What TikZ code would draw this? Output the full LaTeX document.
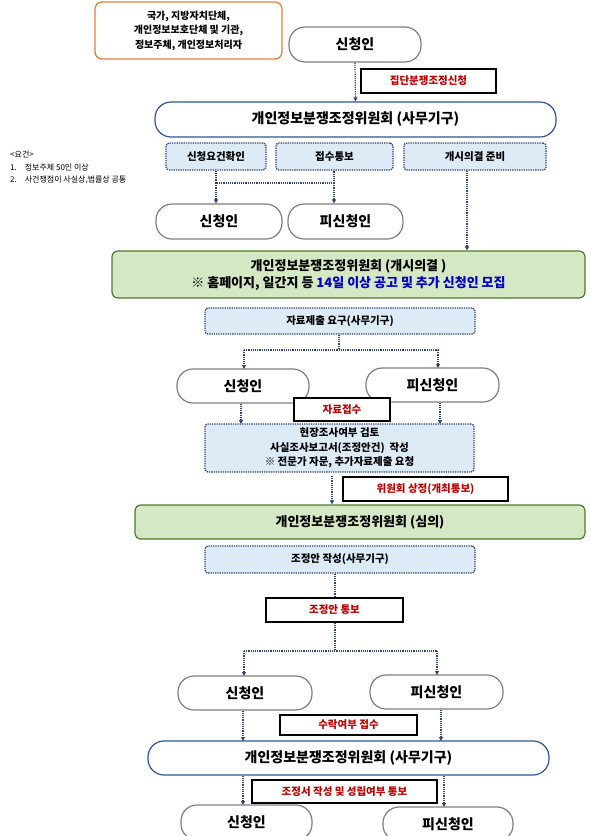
\documentclass[tikz,border=0pt]{standalone}
\usepackage{fontspec}
\setmainfont{Noto Sans CJK KR}
\usetikzlibrary{arrows.meta}
\definecolor{navy}{HTML}{2F4470}
\definecolor{pillblue}{HTML}{2E5597}
\definecolor{tagred}{HTML}{C00000}
\definecolor{boxfill}{HTML}{DDEBF7}
\definecolor{greenfill}{HTML}{D5E8C4}
\definecolor{greenline}{HTML}{4E7A2E}
\definecolor{orangeline}{HTML}{E4803A}
\tikzset{
  pill/.style={draw=gray, line width=1.2pt, rounded corners=16pt, fill=white, font=\fontsize{14}{16}\selectfont\bfseries, inner sep=0pt},
  bluepill/.style={pill, draw=pillblue},
  dotbox/.style={draw=navy, densely dotted, line width=1.3pt, fill=boxfill, rounded corners=3pt, font=\fontsize{10.5}{13}\selectfont\bfseries, inner sep=0pt, align=center},
  greenbox/.style={draw=greenline, line width=1.2pt, fill=greenfill, rounded corners=6pt, font=\fontsize{13}{17}\selectfont\bfseries, inner sep=0pt, align=center},
  redtag/.style={draw=black, line width=1.4pt, fill=white, text=tagred, font=\fontsize{10.5}{12}\selectfont\bfseries, inner sep=0pt},
  flow/.style={draw=navy, densely dotted, line width=1.2pt},
  arr/.style={flow, -{Triangle[length=4pt,width=4pt]}}
}
\begin{document}
\begin{tikzpicture}[x=1pt, y=-1pt]
  \useasboundingbox (0,0) rectangle (600,836);
  \clip (0,0) rectangle (600,836);
  % top part
  \node[draw=orangeline, line width=1.3pt, rounded corners=7pt, minimum width=187pt, minimum height=57pt, align=center, inner sep=0pt, font=\fontsize{10}{14.5}\selectfont\bfseries] (who) at (188.5,30.5) {국가, 지방자치단체,\\개인정보보호단체 및 기관,\\정보주체, 개인정보처리자};
  \node[pill, minimum width=132pt, minimum height=35pt] (app1) at (355,44.5) {신청인};
  \node[redtag, minimum width=135pt, minimum height=24pt] (tag1) at (428.5,81) {집단분쟁조정신청};
  \node[bluepill, minimum width=401pt, minimum height=35pt] (office1) at (355.5,119.5) {개인정보분쟁조정위원회 (사무기구)};
  \node[dotbox, minimum width=100pt, minimum height=27pt] (check) at (216,156.5) {신청요건확인};
  \node[dotbox, minimum width=117pt, minimum height=27pt] (recv) at (334.5,156.5) {접수통보};
  \node[dotbox, minimum width=142pt, minimum height=27pt] (prep) at (475,156.5) {개시의결 준비};
  \node[anchor=north west, align=left, inner sep=0pt, font=\fontsize{8}{12.5}\selectfont] (note) at (10,151) {<요건>\\1.\quad 정보주체 50인 이상\\2.\quad 사건쟁점이 사실상,법률상 공통};
  \node[pill, minimum width=126pt, minimum height=35pt] (app2) at (219,221.5) {신청인};
  \node[pill, minimum width=115pt, minimum height=35pt] (res2) at (345.5,221.5) {피신청인};
  \node[greenbox, minimum width=473pt, minimum height=47pt] (open) at (348.5,274.5) {개인정보분쟁조정위원회 (개시의결 )\\※ 홈페이지, 일간지 등 \textcolor{blue!80!black}{14일 이상 공고 및 추가 신청인 모집}};
  % middle part
  \node[dotbox, minimum width=270pt, minimum height=26pt] (ask) at (340,321) {자료제출 요구(사무기구)};
  \node[pill, minimum width=132pt, minimum height=34pt] (app3) at (243,386) {신청인};
  \node[pill, minimum width=133pt, minimum height=34pt] (res3) at (432.5,385) {피신청인};
  \node[dotbox, minimum width=269pt, minimum height=48pt, font=\fontsize{10.5}{14.5}\selectfont\bfseries] (survey) at (339.5,448) {현장조사여부 검토\\사실조사보고서(조정안건)\ \ 작성\\※ 전문가 자문, 추가자료제출 요청};
  \node[redtag, minimum width=96pt, minimum height=23pt] (tag2) at (342,409.5) {자료접수};
  \node[redtag, minimum width=165pt, minimum height=24pt] (tag3) at (425.5,489) {위원회 상정(개최통보)};
  \node[greenbox, minimum width=450pt, minimum height=34pt] (review) at (360,522) {개인정보분쟁조정위원회 (심의)};
  \node[dotbox, minimum width=270pt, minimum height=27pt] (draft) at (340,559.5) {조정안 작성(사무기구)};
  % bottom part
  \node[redtag, minimum width=137pt, minimum height=24pt] (tag4) at (334.5,610) {조정안 통보};
  \node[pill, minimum width=134pt, minimum height=34pt] (app4) at (245,693) {신청인};
  \node[pill, minimum width=133pt, minimum height=34pt] (res4) at (436.5,692) {피신청인};
  \node[redtag, minimum width=137pt, minimum height=20pt] (tag5) at (348.5,725) {수락여부 접수};
  \node[bluepill, minimum width=401pt, minimum height=34pt] (office2) at (348.5,758) {개인정보분쟁조정위원회 (사무기구)};
  \node[redtag, minimum width=185pt, minimum height=23pt] (tag6) at (344.5,791.5) {조정서 작성 및 성립여부 통보};
  \node[pill, minimum width=131pt, minimum height=35pt] (app5) at (246.5,822.5) {신청인};
  \node[pill, minimum width=130pt, minimum height=34pt] (res5) at (448,824) {피신청인};
  % connectors
  \draw[arr] (app1.south) -- (office1.north);
  \coordinate (j1) at (216,183);
  \draw[flow] (check.south) -- (j1) -- (334,183) -- (recv.south -| 334,0);
  \draw[arr] (j1) -- (app2.north -| j1);
  \draw[arr] (334,183) -- (res2.north -| 334,0);
  \draw[arr] (prep.south -| 467,0) -- (open.north -| 467,0);
  \coordinate (j2) at (339,350);
  \draw[flow] (ask.south -| j2) -- (j2);
  \draw[flow] (244,350) -- (438,350);
  \draw[arr] (244,350) -- (244,369);
  \draw[arr] (438,350) -- (438,368);
  \draw[arr] (app3.south -| 241,0) -- (241,424);
  \draw[arr] (res3.south -| 440,0) -- (440,424);
  \draw[arr] (332,476) -- (review.north -| 332,0);
  \draw[flow] (draft.south -| 335,0) -- (tag4.north -| 335,0);
  \coordinate (j3) at (335,651);
  \draw[flow] (tag4.south -| j3) -- (j3);
  \draw[flow] (244,651) -- (437,651);
  \draw[arr] (244,651) -- (244,676);
  \draw[arr] (437,651) -- (437,675);
  \draw[arr] (app4.south -| 243,0) -- (243,741);
  \draw[arr] (res4.south -| 441,0) -- (441,741);
  \draw[arr] (office2.south -| 243,0) -- (243,805);
  \draw[arr] (office2.south -| 444,0) -- (444,807);
\end{tikzpicture}
\end{document}
